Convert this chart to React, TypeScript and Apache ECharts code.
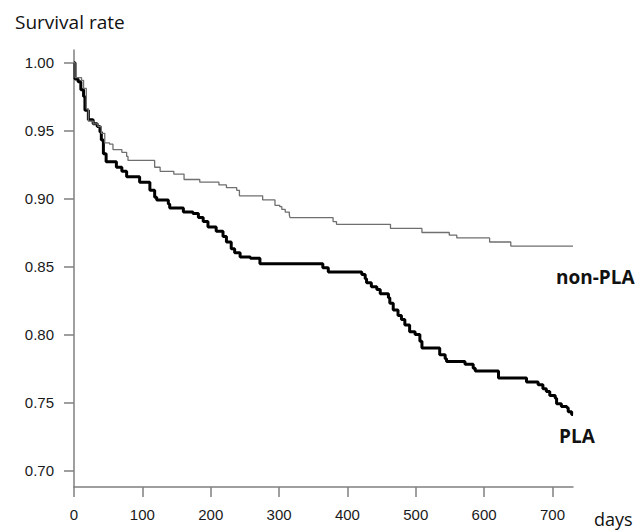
import React, { useEffect, useRef } from "react";
import * as echarts from "echarts";

// Kaplan-Meier step points: [day, survival] (value after the drop at that day)
const plaCurve: [number, number][] = [
  [0, 1.0], [1.5, 0.988], [6, 0.986], [10, 0.98], [14, 0.975], [16, 0.965], [21, 0.958],
  [28, 0.955], [34, 0.953], [38, 0.949], [40, 0.943], [43, 0.933], [47, 0.927], [62, 0.923],
  [70, 0.92], [77, 0.916], [96, 0.912], [111, 0.906], [118, 0.901], [121, 0.899], [138, 0.896],
  [140, 0.893], [160, 0.89], [174, 0.889], [182, 0.886], [189, 0.883], [196, 0.879], [208, 0.876],
  [218, 0.872], [223, 0.868], [230, 0.863], [235, 0.86], [243, 0.857], [258, 0.856], [272, 0.852],
  [364, 0.849], [372, 0.846], [421, 0.844], [426, 0.841], [428, 0.838], [435, 0.835], [443, 0.833],
  [448, 0.83], [460, 0.827], [462, 0.823], [467, 0.818], [474, 0.814], [479, 0.811], [484, 0.807],
  [491, 0.802], [499, 0.8], [506, 0.795], [509, 0.79], [535, 0.785], [543, 0.782], [545, 0.78],
  [572, 0.778], [584, 0.775], [587, 0.773], [621, 0.768], [662, 0.765], [679, 0.763], [686, 0.76],
  [691, 0.758], [696, 0.755], [704, 0.753], [706, 0.749], [713, 0.747], [721, 0.746], [723, 0.743],
  [728, 0.741], [730, 0.741],
];

const nonPlaCurve: [number, number][] = [
  [0, 1.0], [1.5, 0.989], [11, 0.987], [14, 0.981], [18, 0.966], [21, 0.957], [28, 0.955],
  [35, 0.953], [40, 0.948], [45, 0.941], [52, 0.94], [57, 0.936], [70, 0.934], [77, 0.931],
  [79, 0.928], [118, 0.923], [126, 0.92], [146, 0.918], [161, 0.914], [184, 0.912], [212, 0.91],
  [223, 0.908], [238, 0.906], [242, 0.902], [276, 0.899], [294, 0.895], [301, 0.894], [304, 0.892],
  [309, 0.89], [315, 0.888], [316, 0.886], [379, 0.883], [384, 0.881], [463, 0.878], [509, 0.875],
  [549, 0.873], [560, 0.871], [608, 0.868], [639, 0.865], [730, 0.865],
];

const yTicks = [0.7, 0.75, 0.8, 0.85, 0.9, 0.95, 1.0];
const xTicks = [0, 100, 200, 300, 400, 500, 600, 700];

const axisGray = "#7f7f7f";
const labelFont = "'Liberation Sans', Arial, sans-serif";
const textFont = "'Open Sans', sans-serif";

export default function App() {
  const ref = useRef<HTMLDivElement>(null);
  useEffect(() => {
    if (!ref.current) return;
    const chart = echarts.init(ref.current, null, { renderer: "svg" });
    chart.setOption({
      animation: false,
      backgroundColor: "#ffffff",
      grid: { left: 74, right: 62, top: 50, bottom: 43, outerBoundsMode: "none" },
      xAxis: {
        type: "value",
        min: 0,
        max: 730,
        interval: 100,
        axisLine: { show: true, onZero: false, lineStyle: { color: axisGray, width: 1.5 } },
        axisTick: { show: true, length: 10, customValues: xTicks, lineStyle: { color: axisGray, width: 1.5 } },
        axisLabel: {
          customValues: xTicks,
          margin: 20,
          fontSize: 15,
          fontFamily: labelFont,
          color: "#1a1a1a",
        },
        splitLine: { show: false },
      },
      yAxis: {
        type: "value",
        min: 0.6877,
        max: 1.0093,
        axisLine: { show: true, onZero: false, lineStyle: { color: axisGray, width: 1.5 } },
        axisTick: { show: true, length: 10, customValues: yTicks, lineStyle: { color: axisGray, width: 1.5 } },
        axisLabel: {
          customValues: yTicks,
          margin: 20,
          fontSize: 15,
          fontFamily: labelFont,
          color: "#1a1a1a",
          formatter: (v: number) => v.toFixed(2),
        },
        splitLine: { show: false },
      },
      graphic: [
        {
          type: "text",
          x: 15,
          y: 22,
          style: { text: "Survival rate", font: `19px ${textFont}`, fill: "#111", textVerticalAlign: "middle" },
        },
        {
          type: "text",
          x: 594,
          y: 519,
          style: { text: "days", font: `18px ${textFont}`, fill: "#111", textVerticalAlign: "middle" },
        },
        {
          type: "text",
          x: 556,
          y: 277,
          style: { text: "non-PLA", font: `bold 19px ${textFont}`, fill: "#111", textVerticalAlign: "middle" },
        },
        {
          type: "text",
          x: 559,
          y: 436,
          style: { text: "PLA", font: `bold 19px ${textFont}`, fill: "#111", textVerticalAlign: "middle" },
        },
      ],
      series: [
        {
          name: "non-PLA",
          type: "line",
          step: "end",
          symbol: "none",
          data: nonPlaCurve,
          lineStyle: { color: "#6f6f6f", width: 1.3 },
          z: 3,
        },
        {
          name: "PLA",
          type: "line",
          step: "end",
          symbol: "none",
          data: plaCurve,
          lineStyle: { color: "#000000", width: 3 },
          z: 2,
        },
      ],
    });
    return () => chart.dispose();
  }, []);
  return (
    <div
      ref={ref}
      style={{ position: "fixed", left: 0, top: 0, width: 635, height: 530, background: "#fff" }}
    />
  );
}
